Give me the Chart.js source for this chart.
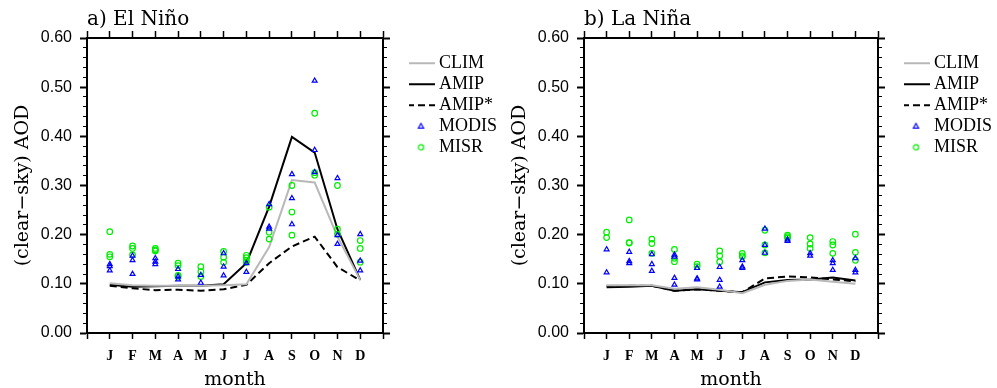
<!DOCTYPE html>
<html>
<head>
<meta charset="utf-8">
<script src="https://cdn.jsdelivr.net/npm/chart.js@4.4.0/dist/chart.umd.min.js"></script>
<style>
  html, body { margin: 0; padding: 0; background: #fff; }
  #wrap { position: relative; width: 997px; height: 388px; }
  .panel { position: absolute; top: 0; height: 388px; }
  #panelA { left: 0; width: 497px; }
  #panelB { left: 497px; width: 500px; }
</style>
</head>
<body>
<div id="wrap">
  <div class="panel" id="panelA"><canvas id="chartA"></canvas></div>
  <div class="panel" id="panelB"><canvas id="chartB"></canvas></div>
</div>
<script>
const months = ["J", "F", "M", "A", "M", "J", "J", "A", "S", "O", "N", "D"];
const yTicks = [0, 0.1, 0.2, 0.3, 0.4, 0.5, 0.6];

// a) El Nino
const climA = [0.101, 0.097, 0.096, 0.096, 0.096, 0.097, 0.099, 0.175, 0.311, 0.306, 0.196, 0.108];
const amipA = [0.098, 0.094, 0.095, 0.096, 0.096, 0.099, 0.142, 0.257, 0.399, 0.367, 0.211, 0.108];
const amipStarA = [0.096, 0.091, 0.087, 0.088, 0.086, 0.089, 0.098, 0.142, 0.176, 0.196, 0.134, 0.107];
const modisA = [
  [0.140, 0.136, 0.127], [0.157, 0.148, 0.120], [0.152, 0.145, 0.140], [0.130, 0.115, 0.109],
  [0.118, 0.102], [0.162, 0.135, 0.117], [0.142, 0.124], [0.262, 0.216, 0.212],
  [0.323, 0.274, 0.221], [0.513, 0.372, 0.327], [0.315, 0.199, 0.181], [0.201, 0.147, 0.127]
];
const misrA = [
  [0.206, 0.160, 0.155], [0.177, 0.172, 0.159], [0.172, 0.169, 0.167], [0.142, 0.137, 0.117, 0.115],
  [0.135, 0.125, 0.115], [0.166, 0.154, 0.144], [0.158, 0.153, 0.148, 0.144], [0.256, 0.205, 0.191],
  [0.300, 0.246, 0.199], [0.447, 0.326, 0.321], [0.300, 0.211, 0.201], [0.188, 0.172, 0.144]
];

// b) La Nina
const climB = [0.097, 0.097, 0.097, 0.090, 0.093, 0.088, 0.081, 0.098, 0.106, 0.109, 0.104, 0.100];
const amipB = [0.093, 0.094, 0.096, 0.086, 0.089, 0.086, 0.083, 0.103, 0.108, 0.109, 0.113, 0.107];
const amipStarB = [0.095, 0.096, 0.096, 0.086, 0.089, 0.086, 0.083, 0.111, 0.115, 0.113, 0.109, 0.105];
const modisB = [
  [0.170, 0.123], [0.165, 0.146, 0.142], [0.160, 0.140, 0.126], [0.159, 0.155, 0.112, 0.098],
  [0.132, 0.111, 0.109], [0.134, 0.108, 0.094], [0.148, 0.135, 0.132], [0.212, 0.179, 0.163],
  [0.190, 0.187], [0.162, 0.157], [0.148, 0.142, 0.128], [0.152, 0.128, 0.123]
];
const misrB = [
  [0.205, 0.194], [0.230, 0.184, 0.183], [0.191, 0.182, 0.162], [0.170, 0.152, 0.145],
  [0.140, 0.135], [0.167, 0.157, 0.145], [0.162, 0.157, 0.155], [0.209, 0.179, 0.163],
  [0.199, 0.196, 0.193], [0.194, 0.181, 0.172], [0.186, 0.179, 0.162], [0.201, 0.164, 0.148]
];

Chart.defaults.animation = false;
Chart.defaults.color = "#000";

const grey = "#b8b8b8";
const blue = "#0000ff";
const green = "#00ee00";
const dashed = [7, 4];

function linePoints(values) {
  return values.map((v, i) => ({ x: i + 1, y: v }));
}

function markerPoints(groups) {
  const pts = [];
  groups.forEach((g, i) => g.forEach((v) => pts.push({ x: i + 1, y: v })));
  return pts;
}

function lineSet(label, values, color, dash) {
  return {
    type: "line",
    label: label,
    data: linePoints(values),
    borderColor: color,
    borderWidth: 2,
    borderDash: dash,
    pointRadius: 0,
    fill: false,
    tension: 0,
    order: 1,
  };
}

function markerSet(label, groups, color, style) {
  return {
    type: "scatter",
    label: label,
    data: markerPoints(groups),
    pointStyle: style,
    pointRadius: 2.8,
    borderColor: color,
    backgroundColor: "rgba(0,0,0,0)",
    borderWidth: 1.2,
    order: 0,
  };
}

// small legend glyphs (line sample or hollow marker)
function lineGlyph(color, dash) {
  const c = document.createElement("canvas");
  c.width = 28; c.height = 4;
  const g = c.getContext("2d");
  g.strokeStyle = color; g.lineWidth = 2; g.setLineDash(dash);
  g.beginPath(); g.moveTo(0, 2); g.lineTo(28, 2); g.stroke();
  return c;
}

function markerGlyph(color, style) {
  const c = document.createElement("canvas");
  c.width = 9; c.height = 9;
  const g = c.getContext("2d");
  g.strokeStyle = color; g.lineWidth = 1.2;
  g.beginPath();
  if (style === "triangle") {
    g.moveTo(4.5, 1.8); g.lineTo(7.1, 6.3); g.lineTo(1.9, 6.3); g.closePath();
  } else {
    g.arc(4.5, 4.5, 2.6, 0, Math.PI * 2);
  }
  g.stroke();
  return c;
}

const glyphs = [
  lineGlyph(grey, []),
  lineGlyph("#000", []),
  lineGlyph("#000", dashed),
  markerGlyph(blue, "triangle"),
  markerGlyph(green, "circle"),
];

const serif = "DejaVu Serif";

function makeChart(id, title, clim, amip, amipStar, modis, misr, rightPad) {
  const ctx = document.getElementById(id).getContext("2d");
  return new Chart(ctx, {
    type: "line",
    data: {
      datasets: [
        lineSet("CLIM", clim, grey, []),
        lineSet("AMIP", amip, "#000000", []),
        lineSet("AMIP*", amipStar, "#000000", dashed),
        markerSet("MODIS", modis, blue, "triangle"),
        markerSet("MISR", misr, green, "circle"),
      ],
    },
    options: {
      responsive: true,
      maintainAspectRatio: false,
      events: [],
      layout: { padding: { left: 0, top: 0, bottom: 0, right: rightPad } },
      plugins: {
        tooltip: { enabled: false },
        legend: {
          position: "right",
          align: "start",
          fullSize: false,
          maxWidth: 88,
          title: { display: true, text: "", padding: { top: 12, bottom: 0 }, font: { size: 1 } },
          labels: {
            usePointStyle: true,
            padding: 3,
            color: "#000",
            font: { family: "Liberation Serif", size: 18 },
            sort: (a, b) => a.datasetIndex - b.datasetIndex,
            generateLabels: (chart) => {
              const items = Chart.defaults.plugins.legend.labels.generateLabels(chart);
              items.forEach((it) => { it.pointStyle = glyphs[it.datasetIndex]; });
              return items;
            },
          },
        },
      },
      scales: {
        x: {
          type: "linear",
          position: "bottom",
          min: 0,
          max: 13,
          afterFit: (s) => { s.height = 55; },
          border: { color: "#000", width: 2 },
          grid: { drawOnChartArea: false, tickLength: 6, tickWidth: 1.5, tickColor: "#000" },
          ticks: {
            stepSize: 1,
            autoSkip: false,
            maxRotation: 0,
            padding: 9,
            font: { family: "Liberation Serif", size: 14, weight: "bold" },
            callback: (v) => months[v - 1] || "",
          },
          title: {
            display: true,
            text: "month",
            font: { family: serif, size: 19, lineHeight: 0.8 },
            padding: { top: 0, bottom: 0 },
          },
        },
        xTop: {
          type: "linear",
          position: "top",
          min: 0,
          max: 13,
          afterFit: (s) => { s.height = 38; },
          border: { color: "#000", width: 2 },
          grid: { drawOnChartArea: false, tickLength: 7, tickWidth: 1.5, tickColor: "#000" },
          ticks: { display: false, stepSize: 1, autoSkip: false },
          title: {
            display: true,
            text: title,
            align: "start",
            font: { family: serif, size: 20 },
            padding: { top: 8, bottom: 0 },
          },
        },
        y: {
          type: "linear",
          position: "left",
          weight: 1,
          min: 0,
          max: 0.6,
          afterFit: (s) => { s.width = 87; },
          border: { color: "#000", width: 2 },
          grid: { drawOnChartArea: false, tickLength: 7, tickWidth: 2, tickColor: "#000" },
          afterBuildTicks: (s) => { s.ticks = yTicks.map((v) => ({ value: v })); },
          ticks: {
            autoSkip: false,
            padding: 8,
            font: { family: "Liberation Sans", size: 16 },
            callback: (v) => Number(v).toFixed(2),
          },
          title: {
            display: true,
            text: "(clear\u2212sky) AOD",
            font: { family: serif, size: 19 },
            padding: { top: 12, bottom: 0 },
          },
        },
        yMinor: {
          type: "linear",
          position: "left",
          weight: 0,
          min: 0,
          max: 0.6,
          afterFit: (s) => { s.width = 0; },
          border: { display: false },
          grid: { drawOnChartArea: false, tickLength: 4, tickWidth: 1, tickColor: "#000" },
          ticks: { display: false, stepSize: 0.02, autoSkip: false },
        },
        yRight: {
          type: "linear",
          position: "right",
          weight: 1,
          min: 0,
          max: 0.6,
          afterFit: (s) => { s.width = 26; },
          border: { color: "#000", width: 2 },
          grid: { drawOnChartArea: false, tickLength: 7, tickWidth: 2, tickColor: "#000" },
          ticks: { display: false, stepSize: 0.1, autoSkip: false },
        },
        yRightMinor: {
          type: "linear",
          position: "right",
          weight: 0,
          min: 0,
          max: 0.6,
          afterFit: (s) => { s.width = 0; },
          border: { display: false },
          grid: { drawOnChartArea: false, tickLength: 4, tickWidth: 1, tickColor: "#000" },
          ticks: { display: false, stepSize: 0.02, autoSkip: false },
        },
      },
    },
  });
}

makeChart("chartA", "a) El Ni\u00f1o", climA, amipA, amipStarA, modisA, misrA, 0);
makeChart("chartB", "b) La Ni\u00f1a", climB, amipB, amipStarB, modisB, misrB, 5);
</script>
</body>
</html>
